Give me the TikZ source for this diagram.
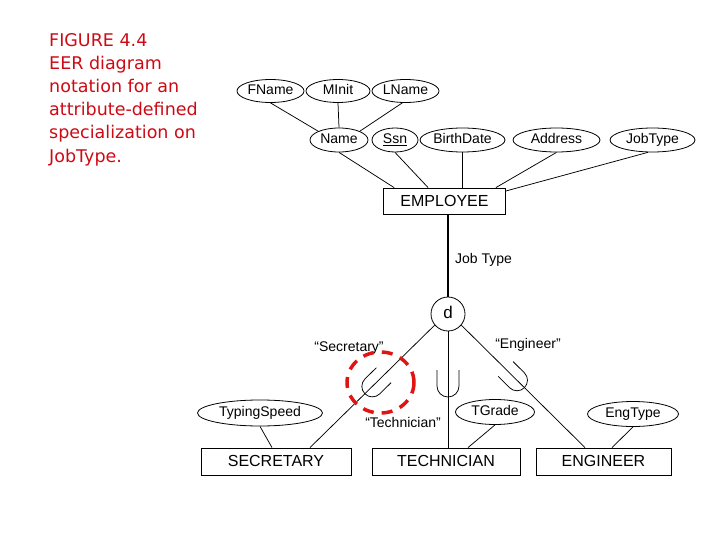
\documentclass[tikz,border=0pt]{standalone}
\usepackage{fontspec}
\setmainfont{Liberation Sans}
\newfontfamily\titlefont{DejaVu Sans}
\usetikzlibrary{shapes.geometric,calc}
\definecolor{titlered}{RGB}{205,10,20}
\definecolor{markred}{RGB}{225,20,20}
\begin{document}
\begin{tikzpicture}[x=1pt,y=-1pt,
  attr/.style={draw, ellipse, inner sep=0pt, line width=0.8pt, text height=10pt, text depth=3pt, font=\fontsize{14}{15}\selectfont},
  ent/.style={draw, rectangle, inner sep=0pt, line width=0.8pt, minimum height=27pt, text height=11.5pt, text depth=1pt, font=\fontsize{16}{17}\selectfont},
  conn/.style={line width=0.75pt},
  lbl/.style={inner sep=0pt, font=\fontsize{14}{15}\selectfont},
  subsetsym/.style={line width=0.75pt},
  marker/.style={draw=markred, line width=3.5pt, dash pattern=on 11pt off 8pt, ellipse, inner sep=0pt}
]
\path[use as bounding box] (0,0) rectangle (720,540);

% title
\node[anchor=north west, inner sep=0pt, align=left, text=titlered,
  font=\titlefont\fontsize{17.5}{23.2}\selectfont] (title) at (49,33)
  {FIGURE 4.4\\EER diagram\\notation for an\\attribute-defined\\specialization on\\JobType.};

% top attributes
\node[attr, minimum width=67pt, minimum height=23pt] (fname) at (270.5,91) {FName};
\node[attr, minimum width=64pt, minimum height=23pt] (minit) at (338,91) {MInit};
\node[attr, minimum width=67pt, minimum height=23pt] (lname) at (405.5,91) {LName};
\node[attr, minimum width=58pt, minimum height=24pt] (name) at (339,140) {Name};
\node[attr, minimum width=46pt, minimum height=24pt] (ssn) at (395,140) {\underline{Ssn}};
\node[attr, minimum width=85pt, minimum height=24pt] (birth) at (462.5,140) {BirthDate};
\node[attr, minimum width=87pt, minimum height=24pt] (addr) at (556.5,140) {Address};
\node[attr, minimum width=85pt, minimum height=24pt] (jobt) at (652.5,140) {JobType};

% entity
\node[ent, minimum width=122pt, minimum height=26pt] (emp) at (444.5,201) {EMPLOYEE};

\draw[conn] (fname.south) -- (name.north west);
\draw[conn] (minit.south) -- (name.north);
\draw[conn] (lname.255) -- (name.north east);
\draw[conn] (name.south) -- ([xshift=11pt]emp.north west);
\draw[conn] (ssn.south) -- ([xshift=45pt]emp.north west);
\draw[conn] (birth.south) -- (birth.south |- emp.north);
\draw[conn] (addr.south) -- ([xshift=-10pt]emp.north east);
\draw[conn] (jobt.250) -- ([yshift=10pt]emp.east);

% specialization circle
\node[draw, circle, minimum size=34pt, inner sep=0pt, line width=0.8pt,
  font=\fontsize{17}{18}\selectfont] (d) at (448,314) {\raisebox{2.5pt}{d}};
\draw[line width=1.8pt] (d.north |- emp.south) -- (d.north);
\node[lbl, anchor=west] (jtl) at (455,260) {Job Type};

% subclasses
\node[ent, minimum width=150pt] (sec) at (276,461.5) {SECRETARY};
\node[ent, minimum width=148pt] (tech) at (446,461.5) {TECHNICIAN};
\node[ent, minimum width=135pt] (eng) at (603.5,461.5) {ENGINEER};

\draw[conn] (d.220) -- ([xshift=34pt]sec.north);
\draw[conn] (d.south) -- (d.south |- tech.north);
\draw[conn] (d.-40) -- ([xshift=-18.5pt]eng.north);

% subset symbols
\coordinate (uL) at ($(d.220)!0.50!([xshift=34pt]sec.north)$);
\coordinate (uM) at ($(d.south)!0.47!(d.south |- tech.north)$);
\coordinate (uR) at ($(d.-40)!0.45!([xshift=-18.5pt]eng.north)$);
\draw[subsetsym, shift={(uL)}, rotate=-45.5] (-10.5pt,16pt) -- (-10.5pt,0pt) arc[start angle=180, end angle=360, radius=10.5pt] -- (10.5pt,16pt);
\draw[subsetsym, shift={(uM)}] (-11pt,16pt) -- (-11pt,0pt) arc[start angle=180, end angle=360, radius=11pt] -- (11pt,16pt);
\draw[subsetsym, shift={(uR)}, rotate=45.2] (-10.5pt,16pt) -- (-10.5pt,0pt) arc[start angle=180, end angle=360, radius=10.5pt] -- (10.5pt,16pt);

% defining values
\node[lbl] (vsec) at (349,348) {“Secretary”};
\node[lbl] (veng) at (528,345) {“Engineer”};
\node[lbl] (vtech) at (403,422) {“Technician”};

% subclass attributes
\node[attr, minimum width=125pt, minimum height=26pt] (typ) at (260,413) {TypingSpeed};
\node[attr, minimum width=79pt, minimum height=25pt] (tgr) at (495,412) {TGrade};
\node[attr, minimum width=91pt, minimum height=25pt] (etype) at (633,414) {EngType};
\draw[conn] (typ.south) -- ([xshift=-4pt]sec.north);
\draw[conn] (tgr.south) -- ([xshift=22pt]tech.north);
\draw[conn] (etype.south) -- ([xshift=8.5pt]eng.north);

% red marker
\node[marker, minimum width=67pt, minimum height=61pt] (mark) at (380.5,382.5) {};
\end{tikzpicture}
\end{document}
